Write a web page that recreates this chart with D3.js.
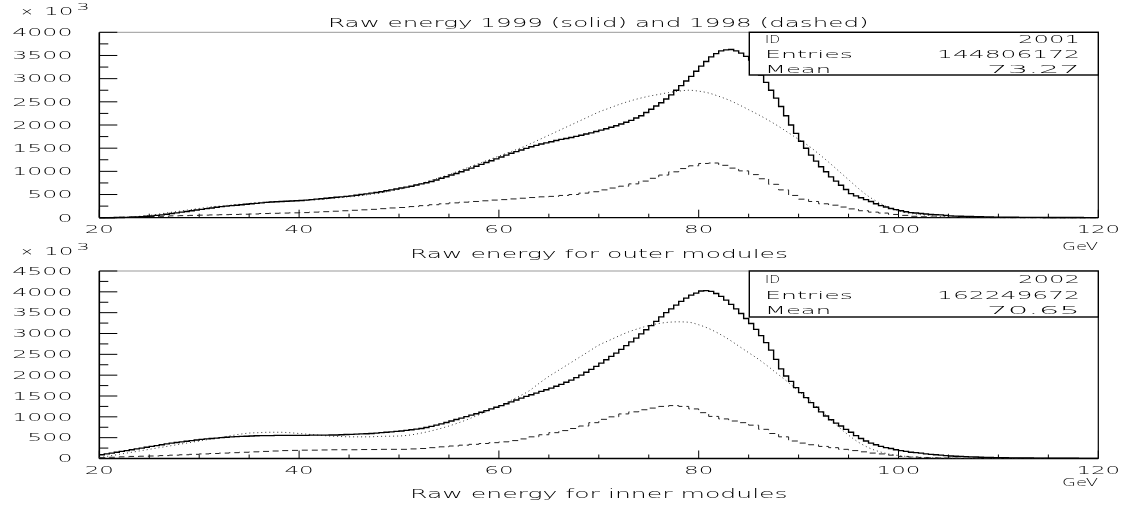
<!DOCTYPE html>
<html><head><meta charset="utf-8">
<script src="https://cdn.jsdelivr.net/npm/d3@7"></script>
<style>
body{margin:0;background:#fff;}
svg{display:block;filter:grayscale(1);}
text{font-family:"DejaVu Sans",sans-serif;font-weight:200;fill:#000;}
</style>
</head><body>
<svg id="c" width="1127" height="507"></svg>
<script>
// ---------------- DATA (values in thousands of entries) ----------------
const titleText = "Raw energy 1999 (solid) and 1998 (dashed)";
const xTickLabels = [20, 40, 60, 80, 100, 120];
const xUnit = "GeV";
const statNames = ["ID", "Entries", "Mean"];
const outerStats = ["2001", "144806172", "73.27"];
const innerStats = ["2002", "162249672", "70.65"];
const outerTitle = "Raw energy for outer modules";
const innerTitle = "Raw energy for inner modules";
const outerYTicks = [0, 500, 1000, 1500, 2000, 2500, 3000, 3500, 4000];
const innerYTicks = [0, 500, 1000, 1500, 2000, 2500, 3000, 3500, 4000, 4500];

// 1999 outer modules, 0.5 GeV bins from 20 to 120
const outerSolid1999 = [
0,0, 0,0.003, 0.005,0.008, 0.012,0.016, 0.02,0.03, 0.04,0.05, 0.06,0.075, 0.09,0.105, 0.12,0.135, 0.15,0.165,
0.18,0.195, 0.21,0.225, 0.24,0.25, 0.26,0.27, 0.28,0.29, 0.30,0.31, 0.32,0.33, 0.34,0.345, 0.35,0.355, 0.36,0.365,
0.37,0.38, 0.39,0.40, 0.41,0.42, 0.43,0.44, 0.45,0.46, 0.47,0.485, 0.50,0.515, 0.53,0.545, 0.56,0.58, 0.60,0.62,
0.64,0.66, 0.68,0.705, 0.73,0.755, 0.78,0.815, 0.85,0.885, 0.92,0.955, 0.99,1.03, 1.07,1.11, 1.15,1.19, 1.23,1.27,
1.31,1.35, 1.39,1.425, 1.46,1.495, 1.53,1.56, 1.59,1.615, 1.64,1.665, 1.69,1.71, 1.73,1.755, 1.78,1.805, 1.83,1.86,
1.89,1.92, 1.95,1.985, 2.02,2.06, 2.10,2.15, 2.20,2.27, 2.34,2.41, 2.48,2.56, 2.65,2.75, 2.85,2.95, 3.05,3.16,
3.27,3.37, 3.47,3.54, 3.60,3.62, 3.63,3.60, 3.55,3.48, 3.40,3.25, 3.08,2.92, 2.75,2.58, 2.40,2.20, 2.00,1.82,
1.65,1.50, 1.35,1.22, 1.10,0.99, 0.88,0.79, 0.70,0.61, 0.52,0.47, 0.43,0.39, 0.35,0.30, 0.26,0.23, 0.20,0.175,
0.15,0.13, 0.11,0.10, 0.09,0.08, 0.07,0.065, 0.06,0.05, 0.04,0.035, 0.03,0.028, 0.025,0.022, 0.02,0.018, 0.015,0.013,
0.012,0.011, 0.01,0.009, 0.008,0.008, 0.007,0.006, 0.006,0.005, 0.005,0.004, 0.004,0.004, 0.003,0.003, 0.003,0.002, 0.002,0.002
];
// 1998 outer modules (dashed), 1 GeV bins from 20 to 120
const outerDashed1998 = [
0,0.005,0.01,0.015,0.02,0.025,0.03,0.04,0.045,0.05,
0.055,0.06,0.065,0.07,0.075,0.08,0.09,0.095,0.10,0.105,
0.11,0.12,0.13,0.14,0.15,0.16,0.17,0.18,0.195,0.21,
0.22,0.24,0.26,0.28,0.30,0.32,0.335,0.35,0.365,0.38,
0.39,0.405,0.42,0.435,0.45,0.46,0.48,0.50,0.53,0.56,
0.60,0.64,0.68,0.73,0.79,0.85,0.92,0.99,1.06,1.12,
1.17,1.18,1.13,1.07,1.01,0.93,0.84,0.72,0.60,0.48,
0.40,0.35,0.30,0.27,0.23,0.19,0.15,0.12,0.10,0.07,
0.05,0.03,0.02,0.015,0.01,0.008,0.005,0.003,0.003,0.002,
0.002,0.001,0.001,0.001,0.001,0,0,0,0,0
];
// dotted curve, outer modules, sampled at 20,21,...,119 GeV
const outerDotted = [
0,0.002,0.008,0.015,0.03,0.05,0.08,0.11,0.14,0.17,
0.20,0.23,0.25,0.27,0.29,0.31,0.33,0.34,0.35,0.36,
0.37,0.38,0.39,0.41,0.43,0.45,0.47,0.50,0.53,0.57,
0.61,0.66,0.72,0.79,0.86,0.93,1.01,1.09,1.17,1.25,
1.33,1.41,1.49,1.58,1.68,1.78,1.88,1.98,2.08,2.18,
2.28,2.36,2.44,2.51,2.57,2.62,2.66,2.70,2.73,2.75,
2.73,2.69,2.62,2.54,2.44,2.33,2.22,2.10,1.97,1.83,
1.69,1.55,1.38,1.20,1.01,0.82,0.63,0.46,0.33,0.22,
0.15,0.10,0.07,0.05,0.03,0.02,0.015,0.01,0.007,0.005,
0.003,0.002,0.002,0.001,0.001,0.001,0,0,0,0
];

// 1999 inner modules, 0.5 GeV bins from 20 to 120
const innerSolid1999 = [
0.09,0.11, 0.13,0.15, 0.17,0.19, 0.21,0.23, 0.25,0.27, 0.29,0.31, 0.33,0.35, 0.37,0.385, 0.40,0.415, 0.43,0.445,
0.46,0.47, 0.48,0.49, 0.50,0.51, 0.52,0.525, 0.53,0.535, 0.54,0.545, 0.55,0.55, 0.55,0.555, 0.555,0.555, 0.555,0.555,
0.555,0.555, 0.56,0.56, 0.56,0.56, 0.565,0.565, 0.57,0.575, 0.58,0.585, 0.59,0.595, 0.60,0.61, 0.62,0.63, 0.64,0.65,
0.66,0.675, 0.69,0.705, 0.72,0.745, 0.77,0.80, 0.83,0.865, 0.90,0.935, 0.97,1.005, 1.04,1.075, 1.11,1.15, 1.19,1.23,
1.27,1.315, 1.36,1.405, 1.45,1.49, 1.53,1.57, 1.61,1.65, 1.69,1.735, 1.78,1.83, 1.88,1.94, 2.00,2.07, 2.14,2.21,
2.29,2.37, 2.45,2.53, 2.62,2.71, 2.80,2.89, 2.99,3.09, 3.19,3.29, 3.40,3.50, 3.59,3.68, 3.77,3.85, 3.92,3.97,
4.02,4.03, 4.01,3.96, 3.89,3.80, 3.70,3.59, 3.48,3.36, 3.24,3.10, 2.95,2.78, 2.60,2.38, 2.15,1.98, 1.85,1.70,
1.58,1.46, 1.34,1.23, 1.12,1.02, 0.93,0.85, 0.78,0.70, 0.63,0.55, 0.48,0.42, 0.37,0.33, 0.29,0.26, 0.24,0.21,
0.19,0.17, 0.15,0.14, 0.13,0.11, 0.10,0.09, 0.08,0.07, 0.06,0.055, 0.05,0.045, 0.04,0.035, 0.03,0.028, 0.025,0.022,
0.02,0.018, 0.016,0.015, 0.013,0.012, 0.011,0.01, 0.009,0.008, 0.007,0.007, 0.006,0.006, 0.005,0.005, 0.004,0.004, 0.003,0.003
];
// 1998 inner modules (dashed), 1 GeV bins from 20 to 120
const innerDashed1998 = [
0.02,0.03,0.04,0.05,0.055,0.06,0.07,0.08,0.09,0.10,
0.11,0.12,0.13,0.14,0.15,0.16,0.17,0.18,0.19,0.195,
0.20,0.20,0.205,0.21,0.21,0.21,0.215,0.215,0.22,0.22,
0.22,0.23,0.24,0.26,0.28,0.30,0.32,0.34,0.36,0.38,
0.40,0.43,0.47,0.52,0.57,0.62,0.67,0.72,0.78,0.86,
0.94,1.00,1.07,1.12,1.17,1.21,1.25,1.27,1.25,1.19,
1.10,1.01,0.95,0.90,0.86,0.80,0.70,0.60,0.52,0.42,
0.37,0.33,0.29,0.26,0.22,0.19,0.16,0.13,0.11,0.08,
0.05,0.035,0.025,0.015,0.01,0.008,0.005,0.004,0.003,0.002,
0.002,0.001,0.001,0.001,0.001,0,0,0,0,0
];
// dotted curve, inner modules, sampled at 20,21,...,119 GeV
const innerDotted = [
0.02,0.06,0.10,0.14,0.18,0.22,0.26,0.30,0.34,0.38,
0.42,0.46,0.50,0.54,0.58,0.61,0.62,0.63,0.63,0.62,
0.60,0.58,0.56,0.54,0.53,0.52,0.52,0.52,0.53,0.535,
0.54,0.56,0.60,0.65,0.71,0.78,0.86,0.95,1.05,1.15,
1.25,1.37,1.49,1.62,1.80,1.97,2.12,2.27,2.42,2.57,
2.72,2.83,2.94,3.04,3.12,3.19,3.24,3.27,3.28,3.27,
3.21,3.12,3.00,2.86,2.70,2.54,2.38,2.20,2.01,1.82,
1.62,1.42,1.20,0.98,0.76,0.56,0.39,0.26,0.17,0.11,
0.07,0.045,0.03,0.02,0.012,0.008,0.005,0.004,0.003,0.002,
0.001,0.001,0.001,0,0,0,0,0,0,0
];

// ---------------- DRAWING ----------------
const svg = d3.select("#c");
const X0 = 99.3, X1 = 1098.3;
const x = d3.scaleLinear().domain([20, 120]).range([X0, X1]);

function label(str, px, py, size, sx, anchor) {
  const g = svg.append("g").attr("transform", `translate(${px},${py}) scale(${sx},1)`);
  g.append("text").attr("font-size", size).attr("text-anchor", anchor || "start").text(str);
  return g;
}
function fitLabel(str, x0, x1, py, size) {
  const g = svg.append("g");
  const t = g.append("text").attr("font-size", size).text(str);
  const w = t.node().getComputedTextLength();
  g.attr("transform", `translate(${x0},${py}) scale(${(x1 - x0) / w},1)`);
  return g;
}

// title
fitLabel(titleText, 328, 869, 26.7, 12.5);

const panels = [
  {top: 32.3, bottom: 217.7, ymax: 4000, yTicks: outerYTicks, solid: outerSolid1999, dashed: outerDashed1998,
   dotted: outerDotted, stats: outerStats, xtitle: outerTitle, boxBottom: 75, statBase: [42.5, 57.5, 72.5],
   titleBase: 258.3, gevBase: 250, expBase: 15},
  {top: 271, bottom: 458.5, ymax: 4500, yTicks: innerYTicks, solid: innerSolid1999, dashed: innerDashed1998,
   dotted: innerDotted, stats: innerStats, xtitle: innerTitle, boxBottom: 317, statBase: [283, 298.5, 314],
   titleBase: 498.3, gevBase: 485.7, expBase: 255}
];

panels.forEach(p => {
  const y = d3.scaleLinear().domain([0, p.ymax]).range([p.bottom, p.top]);
  const g = svg.append("g");

  // frame
  g.append("line").attr("x1", X0).attr("x2", X1).attr("y1", p.top).attr("y2", p.top)
    .attr("stroke", "#999").attr("stroke-width", 1);
  g.append("line").attr("x1", X1).attr("x2", X1).attr("y1", p.top).attr("y2", p.bottom)
    .attr("stroke", "#000").attr("stroke-width", 1.2);

  // y ticks (inward), major every 500, minor every 250
  const yMinor = d3.range(0, p.ymax + 1, 250);
  g.selectAll(null).data(yMinor).join("line")
    .attr("x1", X0).attr("x2", d => X0 + (d % 500 === 0 ? 18 : 9))
    .attr("y1", d => y(d)).attr("y2", d => y(d))
    .attr("stroke", "#000").attr("stroke-width", 1);
  p.yTicks.forEach(t => label(String(t), 72.5, y(t) + 3.8, 10.3, 2.3, "end"));

  // x ticks (upward), major every 20, minor every 5
  const xMinor = d3.range(20, 121, 5);
  g.selectAll(null).data(xMinor).join("line")
    .attr("x1", d => x(d)).attr("x2", d => x(d))
    .attr("y1", p.bottom).attr("y2", d => p.bottom - (d % 20 === 0 ? 8 : 4))
    .attr("stroke", "#000").attr("stroke-width", 1);
  xTickLabels.forEach(t => label(String(t), x(t), p.bottom + 15, 11.2, 2.05, "middle"));

  // axes lines
  g.append("line").attr("x1", X0).attr("x2", X1).attr("y1", p.bottom).attr("y2", p.bottom)
    .attr("stroke", "#000").attr("stroke-width", 1.3);
  g.append("line").attr("x1", X0).attr("x2", X0).attr("y1", p.top).attr("y2", p.bottom)
    .attr("stroke", "#000").attr("stroke-width", 1.6);

  // x 10^3
  label("\u00d7", 20, p.expBase, 11, 1.5, "start");
  label("10", 44, p.expBase, 10.3, 2.25, "start");
  label("3", 76.5, p.expBase - 5, 9, 2.3, "start");

  // histograms
  const stepLine = d3.line().x(d => x(d[0])).y(d => y(d[1] * 1000)).curve(d3.curveStepAfter);
  const solidPts = p.solid.map((v, i) => [20 + i * 0.5, v]);
  solidPts.push([120, p.solid[p.solid.length - 1]]);
  const dashedPts = p.dashed.map((v, i) => [20 + i, v]);
  dashedPts.push([120, p.dashed[p.dashed.length - 1]]);
  const dotPts = p.dotted.map((v, i) => [20 + i, v]);

  g.append("path").attr("d", d3.line().x(d => x(d[0])).y(d => y(d[1] * 1000)).curve(d3.curveMonotoneX)(dotPts))
    .attr("fill", "none").attr("stroke", "#333").attr("stroke-width", 1).attr("stroke-dasharray", "1,3");
  g.append("path").attr("d", stepLine(dashedPts))
    .attr("fill", "none").attr("stroke", "#222").attr("stroke-width", 1).attr("stroke-dasharray", "6,4");
  g.append("path").attr("d", stepLine(solidPts))
    .attr("fill", "none").attr("stroke", "#000").attr("stroke-width", 1.4);

  // stats box
  g.append("rect").attr("x", 749.3).attr("y", p.top).attr("width", X1 - 749.3).attr("height", p.boxBottom - p.top)
    .attr("fill", "#fff").attr("stroke", "#000").attr("stroke-width", 1.4);
  const nameSpans = [[765, 780], [765, 853], [765, 831]];
  const valSpans = [[1018, 1080], [937, 1080], [987, 1080]];
  statNames.forEach((s, i) => fitLabel(s, nameSpans[i][0], nameSpans[i][1], p.statBase[i], 10.4));
  p.stats.forEach((s, i) => fitLabel(s, valSpans[i][0], valSpans[i][1], p.statBase[i], 10.4));

  // axis titles
  fitLabel(xUnit, 1062, 1098, p.gevBase, 10.6);
  fitLabel(p.xtitle, 410, 788, p.titleBase, 12.3);
});
</script>
</body></html>
